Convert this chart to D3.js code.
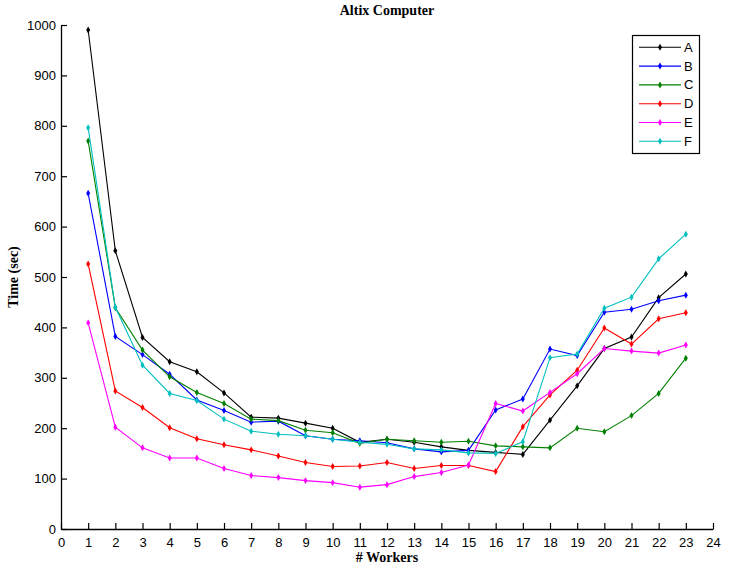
<!DOCTYPE html>
<html>
<head>
<meta charset="utf-8">
<script src="https://cdn.jsdelivr.net/npm/d3@7"></script>
<style>
  html, body { margin: 0; padding: 0; background: #fff; }
  svg { display: block; }
</style>
</head>
<body>
<svg id="chart" width="729" height="572"></svg>
<script>
// ---- Data ----
const workers = [1,2,3,4,5,6,7,8,9,10,11,12,13,14,15,16,17,18,19,20,21,22,23];
const seriesNames = ["A","B","C","D","E","F"];
const seriesColors = ["#000000","#0000ff","#008000","#ff0000","#ff00ff","#00bfbf"];
const valuesA = [990,552,380,332,312,270,222,220,210,200,172,178,172,163,156,152,148,216,284,358,381,459,506];
const valuesB = [666,382,346,307,256,235,212,214,185,178,175,171,159,153,156,236,258,357,344,430,436,453,464];
const valuesC = [770,439,355,302,271,249,218,215,196,191,170,178,175,172,174,165,163,161,200,193,225,269,339];
const valuesD = [526,274,241,201,179,167,157,145,132,124,125,132,120,126,126,114,203,266,315,399,367,417,429];
const valuesE = [409,202,161,141,141,120,106,102,96,92,83,88,104,112,127,249,234,271,308,358,353,349,365];
const valuesF = [796,440,325,269,255,218,194,188,185,178,172,168,159,157,151,150,173,340,347,438,460,536,585];
const allValues = [valuesA,valuesB,valuesC,valuesD,valuesE,valuesF];
const xTicks = d3.range(0, 25, 1);
const yTicks = d3.range(0, 1001, 100);

// ---- Layout ----
const svg = d3.select("#chart");
const plotLeft = 61, plotRight = 713, plotTop = 25, plotBottom = 529;
const x = d3.scaleLinear().domain([0,24]).range([plotLeft,plotRight]);
const y = d3.scaleLinear().domain([0,1000]).range([plotBottom,plotTop]);

const tickFont = "'Liberation Sans', Arial, sans-serif";
const labelFont = "'Liberation Serif', 'Times New Roman', serif";

// Axes (ticks pointing inward)
const xAxis = d3.axisBottom(x).tickValues(xTicks).tickFormat(d3.format("d")).tickSizeInner(-6).tickSizeOuter(0).tickPadding(9);
const yAxis = d3.axisLeft(y).tickValues(yTicks).tickFormat(d3.format("d")).tickSizeInner(-6).tickSizeOuter(0).tickPadding(5);

const gx = svg.append("g").attr("transform", `translate(0,${plotBottom})`).call(xAxis);
const gy = svg.append("g").attr("transform", `translate(${plotLeft},0)`).call(yAxis);
[gx, gy].forEach(g => {
  g.select(".domain").attr("stroke", "#000").attr("stroke-width", 1.3);
  g.selectAll(".tick line").attr("stroke", "#000").attr("stroke-width", 1.2);
  g.selectAll(".tick text").attr("fill", "#000").style("font-family", tickFont).style("font-size", "13px");
});

// Series
const line = d3.line().x((d,i) => x(workers[i])).y(d => y(d));
allValues.forEach((vals, k) => {
  const g = svg.append("g");
  g.append("path").datum(vals)
    .attr("d", line)
    .attr("fill", "none")
    .attr("stroke", seriesColors[k])
    .attr("stroke-width", 1.1);
  g.selectAll("path.mk").data(vals).enter().append("path")
    .attr("class", "mk")
    .attr("d", d3.symbol().type(d3.symbolDiamond).size(14))
    .attr("transform", (d,i) => `translate(${x(workers[i])},${y(d)})`)
    .attr("fill", seriesColors[k]);
});

// Title and axis labels
svg.append("text").attr("x", (plotLeft+plotRight)/2).attr("y", 15)
  .attr("text-anchor", "middle")
  .style("font-family", labelFont).style("font-weight", "bold").style("font-size", "14px")
  .text("Altix Computer");
svg.append("text").attr("x", (plotLeft+plotRight)/2).attr("y", 562)
  .attr("text-anchor", "middle")
  .style("font-family", labelFont).style("font-weight", "bold").style("font-size", "14px")
  .text("# Workers");
svg.append("text")
  .attr("transform", `translate(18,${(plotTop+plotBottom)/2}) rotate(-90)`)
  .attr("text-anchor", "middle")
  .style("font-family", labelFont).style("font-weight", "bold").style("font-size", "14px")
  .text("Time (sec)");

// Legend
const lg = svg.append("g");
lg.append("rect").attr("x", 632.5).attr("y", 35.5).attr("width", 67).attr("height", 118)
  .attr("fill", "#fff").attr("stroke", "#000").attr("stroke-width", 1.2);
seriesNames.forEach((name, k) => {
  const yy = 47.3 + k * 18.8;
  lg.append("line").attr("x1", 639).attr("x2", 681).attr("y1", yy).attr("y2", yy)
    .attr("stroke", seriesColors[k]).attr("stroke-width", 1.1);
  lg.append("path").attr("d", d3.symbol().type(d3.symbolDiamond).size(14))
    .attr("transform", `translate(660,${yy})`).attr("fill", seriesColors[k]);
  lg.append("text").attr("x", 684).attr("y", yy + 4.5)
    .style("font-family", tickFont).style("font-size", "13px").attr("fill", "#000")
    .text(name);
});
</script>
</body>
</html>
